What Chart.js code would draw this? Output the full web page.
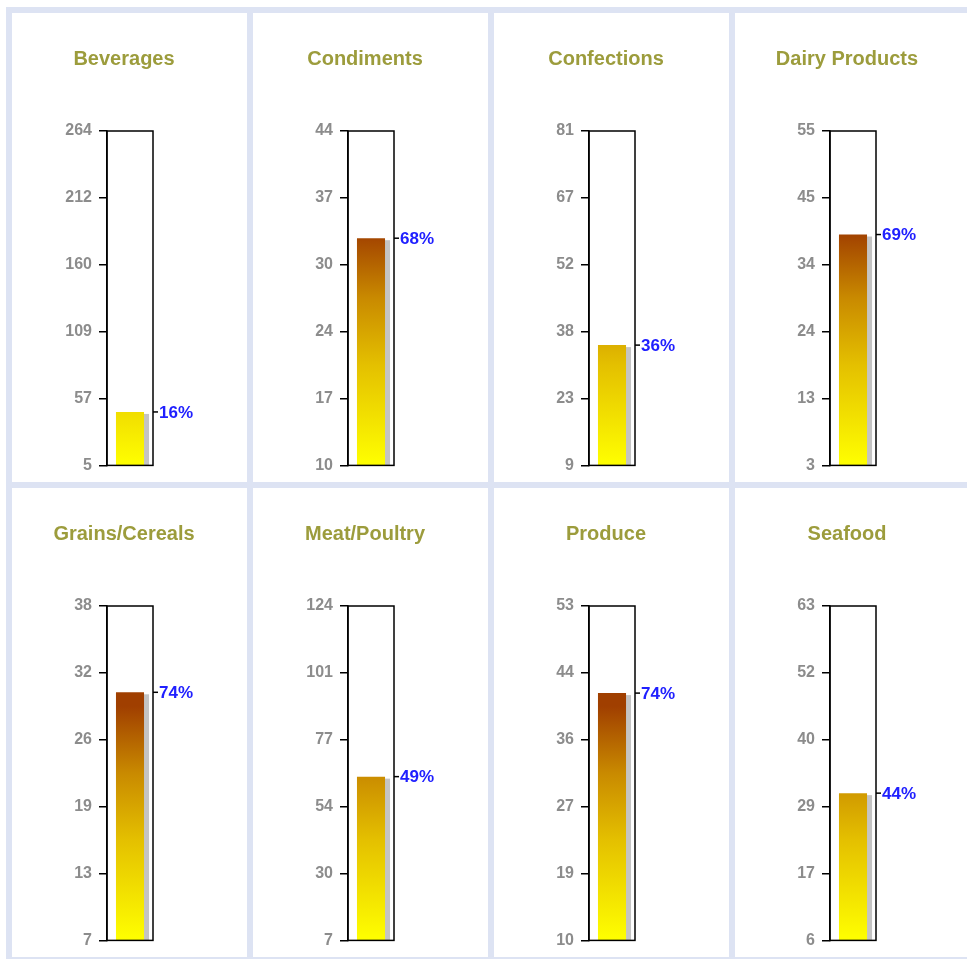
<!DOCTYPE html>
<html>
<head>
<meta charset="utf-8">
<script src="https://cdn.jsdelivr.net/npm/chart.js@4.4.0/dist/chart.umd.min.js"></script>
<style>
    body { margin: 0; background: #ffffff; overflow: hidden; }
    #grade {
        position: absolute;
        left: 6px;
        top: 7px;
        padding: 6px;
        background: #dde3f3;
        display: grid;
        grid-template-columns: repeat(4, 235px);
        grid-template-rows: repeat(2, 469px);
        gap: 6px;
    }
    .painel { background: #ffffff; position: relative; }
    .painel canvas { position: absolute; left: 0; top: 0; }
</style>
</head>
<body>
<div id="grade"></div>
<script>
// ======== DADOS ========
const categorias = ["Beverages", "Condiments", "Confections", "Dairy Products",
                    "Grains/Cereals", "Meat/Poultry", "Produce", "Seafood"];
const valores = [46.4, 33.1, 34.9, 38.9, 30.0, 64.3, 41.8, 31.1];
const percentuais = ["16%", "68%", "36%", "69%", "74%", "49%", "74%", "44%"];
const eixoMin = [5, 10, 9, 3, 7, 7, 10, 6];
const eixoMax = [264, 44, 81, 55, 38, 124, 53, 63];
const rotulosEixo = [
    [5, 57, 109, 160, 212, 264],
    [10, 17, 24, 30, 37, 44],
    [9, 23, 38, 52, 67, 81],
    [3, 13, 24, 34, 45, 55],
    [7, 13, 19, 26, 32, 38],
    [7, 30, 54, 77, 101, 124],
    [10, 19, 27, 36, 44, 53],
    [6, 17, 29, 40, 52, 63]
];

const fonte = "'Liberation Sans', Arial, sans-serif";

// ======== PLUGIN: SOMBRA, MOLDURA E RÓTULO ========
const termometro = {
    id: "termometro",
    beforeDatasetsDraw(chart) {
        const ctx = chart.ctx;
        const fundo = chart.chartArea.bottom;
        chart.getDatasetMeta(0).data.forEach(bar => {
            const base = Math.min(bar.base, fundo);
            ctx.save();
            ctx.fillStyle = "#c4c4c4";
            ctx.fillRect(bar.x - bar.width / 2 + 5, bar.y + 2, bar.width, base - bar.y - 2);
            ctx.restore();
        });
    },
    afterDatasetsDraw(chart, args, opts) {
        const ctx = chart.ctx;
        const area = chart.chartArea;
        ctx.save();
        ctx.strokeStyle = "#000000";
        ctx.lineWidth = 1.5;
        ctx.strokeRect(area.left, area.top, area.right - area.left, area.bottom - area.top);

        const bar = chart.getDatasetMeta(0).data[0];
        ctx.beginPath();
        ctx.moveTo(area.right, bar.y);
        ctx.lineTo(area.right + 5, bar.y);
        ctx.stroke();

        ctx.fillStyle = "#2020ff";
        ctx.font = "bold 17px " + fonte;
        ctx.textAlign = "left";
        ctx.textBaseline = "middle";
        ctx.fillText(opts.texto, area.right + 6, bar.y + 1);
        ctx.restore();
    }
};

function gradiente(context) {
    const chart = context.chart;
    const area = chart.chartArea;
    if (!area) return "#ffff00";
    const g = chart.ctx.createLinearGradient(0, area.bottom, 0, area.top);
    g.addColorStop(0, "#ffff00");
    g.addColorStop(0.3, "#e4c000");
    g.addColorStop(0.5, "#c98a00");
    g.addColorStop(0.7, "#a03f00");
    g.addColorStop(1, "#a03f00");
    return g;
}

// ======== GRÁFICOS ========
const grade = document.getElementById("grade");

categorias.forEach((nome, i) => {
    const painel = document.createElement("div");
    painel.className = "painel";
    const canvas = document.createElement("canvas");
    canvas.width = 224;
    canvas.height = 469;
    painel.appendChild(canvas);
    grade.appendChild(painel);

    const min = eixoMin[i];
    const max = eixoMax[i];
    const rotulos = rotulosEixo[i];

    new Chart(canvas, {
        type: "bar",
        data: {
            labels: [nome],
            datasets: [{
                data: [valores[i]],
                backgroundColor: gradiente,
                borderWidth: 0,
                barPercentage: 0.61,
                categoryPercentage: 1
            }]
        },
        plugins: [termometro],
        options: {
            responsive: false,
            animation: false,
            devicePixelRatio: 1,
            layout: { padding: { left: 0, right: 0, top: 0, bottom: 15 } },
            plugins: {
                legend: { display: false },
                tooltip: { enabled: false },
                title: {
                    display: true,
                    text: nome,
                    color: "#9c9c3c",
                    font: { family: fonte, size: 20, weight: "bold" },
                    padding: { top: 34, bottom: 60 }
                },
                termometro: { texto: percentuais[i] }
            },
            scales: {
                x: { display: false },
                y: {
                    min: min,
                    max: max,
                    afterBuildTicks(scale) {
                        scale.ticks = rotulos.map((_, k) => ({ value: min + k * (max - min) / (rotulos.length - 1) }));
                    },
                    afterFit(scale) {
                        scale.width = 95;
                    },
                    ticks: {
                        callback: (v, k) => rotulos[k],
                        color: "#8c8c8c",
                        font: { family: fonte, size: 16, weight: "bold" },
                        padding: 7
                    },
                    grid: {
                        drawOnChartArea: false,
                        drawTicks: true,
                        tickLength: 8,
                        color: "#000000",
                        lineWidth: 1.5
                    },
                    border: { display: true, color: "#000000", width: 1.5 }
                },
                // eixo vazio à direita, só para reservar o espaço do rótulo
                direita: {
                    axis: "y",
                    position: "right",
                    min: min,
                    max: max,
                    ticks: { display: false },
                    grid: { display: false },
                    border: { display: false },
                    afterFit(scale) {
                        scale.width = 83;
                    }
                }
            }
        }
    });
});
</script>
</body>
</html>
